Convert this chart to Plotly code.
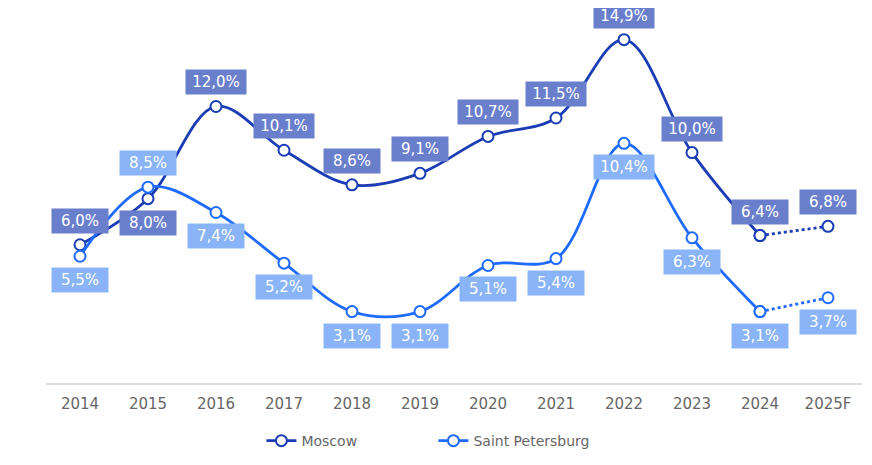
import plotly.graph_objects as go

years = ["2014", "2015", "2016", "2017", "2018", "2019", "2020", "2021", "2022", "2023", "2024", "2025F"]
moscow = [6.0, 8.0, 12.0, 10.1, 8.6, 9.1, 10.7, 11.5, 14.9, 10.0, 6.4, 6.8]
spb = [5.5, 8.5, 7.4, 5.2, 3.1, 3.1, 5.1, 5.4, 10.4, 6.3, 3.1, 3.7]

# label above (+1) or below (-1) the point
moscow_side = [1, -1, 1, 1, 1, 1, 1, 1, 1, 1, 1, 1]
spb_side = [-1, 1, -1, -1, -1, -1, -1, -1, -1, -1, -1, -1]

MOS_LINE = "#1a3cb4"
SPB_LINE = "#1f6bff"
MOS_BOX = "#6a7fcc"
SPB_BOX = "#8ab4f8"

fig = go.Figure()

def add_series(name, vals, line_col):
    # solid part up to 2024, dotted forecast
    fig.add_trace(go.Scatter(
        x=years[:-1], y=vals[:-1], name=name, mode="lines+markers",
        line=dict(color=line_col, width=2.8, shape="spline", smoothing=1),
        marker=dict(size=11, color="white", line=dict(color=line_col, width=2)),
    ))
    fig.add_trace(go.Scatter(
        x=years[-2:], y=vals[-2:], showlegend=False, mode="lines+markers",
        line=dict(color=line_col, width=2.8, dash="dot", shape="spline"),
        marker=dict(size=11, color="white", line=dict(color=line_col, width=2)),
    ))

add_series("Moscow", moscow, MOS_LINE)
add_series("Saint Petersburg", spb, SPB_LINE)

def add_labels(vals, sides, box):
    for i, (v, s) in enumerate(zip(vals, sides)):
        txt = f"{v:.1f}%".replace(".", ",")
        fig.add_annotation(
            x=i, y=v, text=txt, showarrow=False,
            yshift=24 * s, bgcolor=box, borderpad=5,
            width=46 if len(txt) < 5 else 50, height=14,
            font=dict(color="white", size=15, family="DejaVu Sans"),
        )

add_labels(moscow, moscow_side, MOS_BOX)
add_labels(spb, spb_side, SPB_BOX)

fig.update_layout(
    width=872, height=465,
    margin=dict(l=38, r=18, t=10, b=90, autoexpand=False),
    plot_bgcolor="white", paper_bgcolor="white",
    font=dict(family="DejaVu Sans", color="#666666", size=14),
    legend=dict(orientation="h", x=0.264, xanchor="left", y=-0.159, yanchor="middle",
                font=dict(size=14, color="#666666"),
                entrywidth=127, entrywidthmode="pixels"),
    xaxis=dict(type="category", range=[-0.5, 11.5], showgrid=False,
               showline=True, linecolor="#dddddd", linewidth=2,
               ticks="", ticklabelstandoff=6,
               tickfont=dict(size=15, color="#666666")),
    yaxis=dict(range=[0, 15.84], visible=False),
)

fig.write_html("out.html")
